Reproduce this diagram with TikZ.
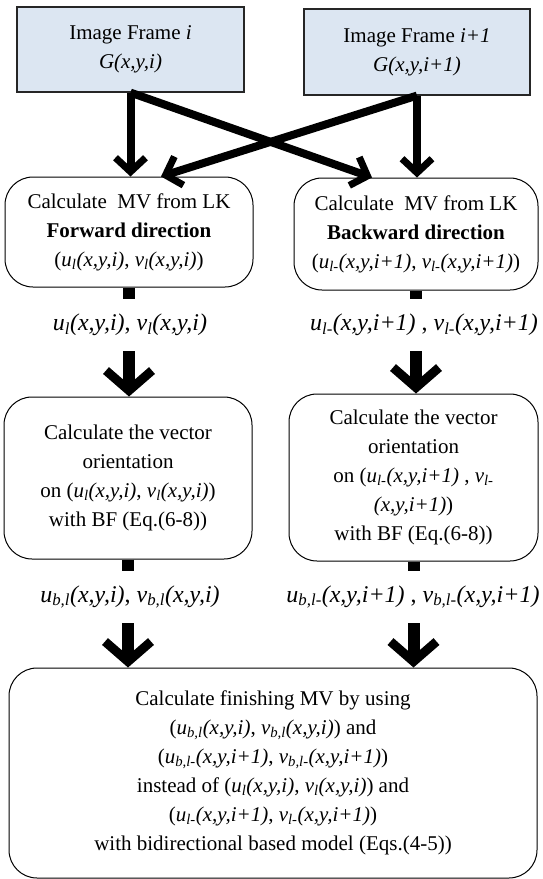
\documentclass[tikz,border=0pt]{standalone}
\usepackage{fontspec}
\setmainfont{Liberation Serif}
\usetikzlibrary{arrows.meta}
\definecolor{framefill}{HTML}{DCE6F2}
\newcommand{\mvf}[2]{\textit{#1}\textsubscript{\textit{#2}}\textit{(x,y,i)}}
\newcommand{\mvb}[2]{\textit{#1}\textsubscript{\textit{#2}-}\textit{(x,y,i+1)}}

\begin{document}
\begin{tikzpicture}[x=1pt,y=-1pt,
  every node/.style={font=\fontsize{21}{29}\selectfont, align=center, inner sep=2pt},
  framebox/.style={draw=black!85, fill=framefill, line width=1.2pt},
  procbox/.style={draw, line width=1pt, rounded corners=28pt},
  mvlabel/.style={minimum height=52pt, font=\fontsize{24}{29}\selectfont},
  thinarr/.style={line width=8pt, -{Straight Barb[length=14pt, width=30pt, line width=7pt, sharp]}},
  stub/.style={line width=12pt},
  bigarr/.style={line width=12pt, -{Straight Barb[length=20pt, width=46pt, line width=9pt, sharp]}}]
\useasboundingbox (0,0) rectangle (542,879);
% input frames
\node[framebox, minimum width=227pt, minimum height=85pt] (frmA) at (130.5,49.5)
  {Image Frame \textit{i}\\ \textit{G(x,y,i)}};
\node[framebox, minimum width=226pt, minimum height=86pt] (frmB) at (417,52)
  {Image Frame \textit{i+1}\\ \textit{G(x,y,i+1)}};
% LK in both directions
\node[procbox, minimum width=248pt, minimum height=110pt] (fwd) at (129,232)
  {Calculate\ \ MV from LK\\ \textbf{Forward direction}\\ (\mvf{u}{l}, \mvf{v}{l})};
\node[procbox, minimum width=244pt, minimum height=112pt] (bwd) at (416,234)
  {Calculate\ \ MV from LK\\ \textbf{Backward direction}\\ (\mvb{u}{l}, \mvb{v}{l})};
\node[mvlabel] (mvA) at (130,325) {\mvf{u}{l}, \mvf{v}{l}};
\node[mvlabel] (mvB) at (424,325) {\mvb{u}{l} , \mvb{v}{l}};
% orientation with BF
\node[procbox, minimum width=248pt, minimum height=162pt] (oriA) at (128,478)
  {Calculate the vector\\ orientation\\ on (\mvf{u}{l}, \mvf{v}{l})\\ with BF (Eq.(6-8))};
\node[procbox, minimum width=249pt, minimum height=167pt] (oriB) at (413.5,477.5)
  {Calculate the vector\\ orientation\\ on (\mvb{u}{l} , \textit{v}\textsubscript{\textit{l}-}\\
   \textit{(x,y,i+1)})\\ with BF (Eq.(6-8))};
\node[mvlabel] (bfA) at (130,597) {\mvf{u}{b,l}, \mvf{v}{b,l}};
\node[mvlabel] (bfB) at (413,597) {\mvb{u}{b,l} , \mvb{v}{b,l}};
% final step
\node[procbox, minimum width=528pt, minimum height=210pt] (fin) at (273,773)
  {Calculate finishing MV by using\\ (\mvf{u}{b,l}, \mvf{v}{b,l}) and\\
   (\mvb{u}{b,l}, \mvb{v}{b,l})\\ instead of (\mvf{u}{l}, \mvf{v}{l}) and\\
   (\mvb{u}{l}, \mvb{v}{l})\\ with bidirectional based model (Eqs.(4-5))};

\draw[thinarr] (frmA.south) -- (frmA.south |- fwd.north);
\draw[thinarr] (frmA.south) -- ([xshift=-44pt]bwd.north);
\draw[thinarr] (frmB.south) -- ([xshift=32pt]fwd.north);
\draw[thinarr] (frmB.south) -- (frmB.south |- bwd.north);
\foreach \a/\b/\c in {fwd/mvA/oriA, bwd/mvB/oriB, oriA/bfA/fin, oriB/bfB/fin} {
  \draw[stub] (\a.south) -- (\a.south |- \b.north);
  \draw[bigarr] (\a.south |- \b.south) -- (\a.south |- \c.north);
}
\end{tikzpicture}
\end{document}
